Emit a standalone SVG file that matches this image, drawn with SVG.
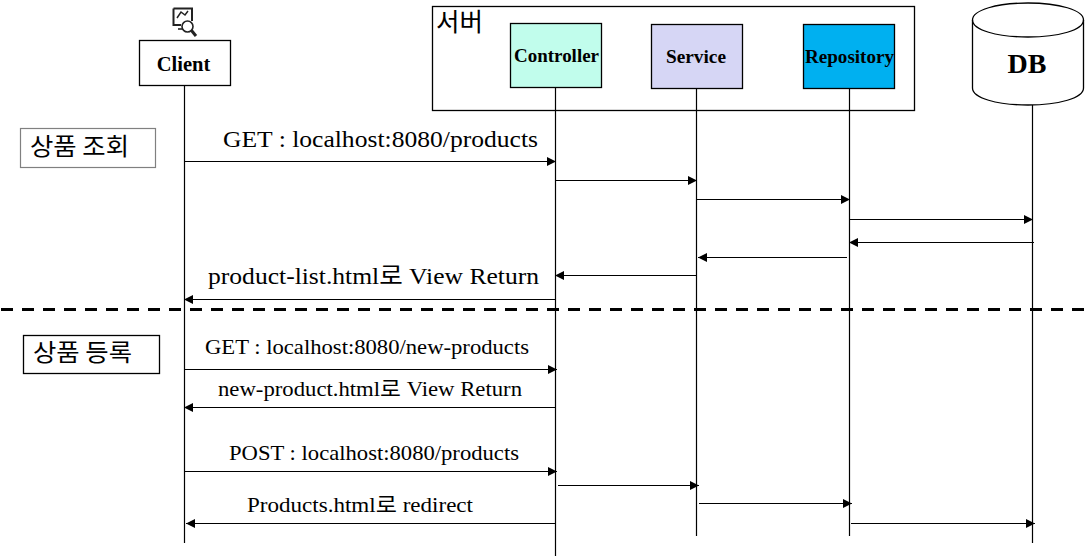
<svg xmlns="http://www.w3.org/2000/svg" width="1085" height="556" viewBox="0 0 1085 556">
<style>
.box{stroke:#000;stroke-width:1.3}
.life{stroke:#000;stroke-width:1.2;fill:none}
.msg{stroke:#000;stroke-width:1.2;fill:none}
.fwd{marker-end:url(#ah)}
.nm{font-family:"Liberation Serif",serif;font-weight:bold;fill:#000;text-anchor:middle}
.lb{font-family:"Liberation Serif","Noto Sans CJK KR",serif;fill:#000}
.kr{font-family:"Noto Sans CJK KR","Noto Sans",sans-serif;fill:#000}
</style>
<defs>
<marker id="ah" markerUnits="userSpaceOnUse" markerWidth="10" markerHeight="10" refX="9" refY="4.500" orient="auto-start-reverse">
<path d="M0,0 L9,4.500 L0,9 Z" fill="#000"/>
</marker>
</defs>
<rect width="1085" height="556" fill="#fff"/>

<g id="server-frame"><rect x="432.500" y="6.500" width="482" height="104" fill="none" class="box"/>
<text x="436" y="31" class="kr" font-size="25" textLength="47" lengthAdjust="spacingAndGlyphs">서버</text></g>

<g id="connectors">
<path class="life" d="M184.500 85V543M555.500 87V556M696.500 88V536M849.500 88V536M1032.500 105V543"/>
<path class="msg fwd" d="M185 161.500H556"/>
<path class="msg fwd" d="M556 180.500H697"/>
<path class="msg fwd" d="M697 199.500H850"/>
<path class="msg fwd" d="M850 219.500H1033"/>
<path class="msg fwd" d="M1034 242.500H849"/>
<path class="msg fwd" d="M847 257.500H698"/>
<path class="msg fwd" d="M696 275.500H555"/>
<path class="msg fwd" d="M555 299.500H184"/>
<path d="M1 309.500H1085" stroke="#000" stroke-width="3" stroke-dasharray="12 9" fill="none"/>
<path class="msg fwd" d="M185 369.500H557"/>
<path class="msg fwd" d="M555 407.500H184"/>
<path class="msg fwd" d="M185 471.500H557"/>
<path class="msg fwd" d="M558 485.500H699"/>
<path class="msg fwd" d="M699 503.500H852"/>
<path class="msg fwd" d="M555 523.500H186"/>
<path class="msg fwd" d="M851 523.500H1035"/>
</g>

<g id="icon" fill="none" stroke="#222">
<path d="M173.500 8.500H192V21M173.500 8.500V25H181" stroke-width="2"/>
<path d="M177 18L181 12L185 15L188 11" stroke-width="1.500"/>
<circle cx="187.500" cy="26.500" r="5.500" stroke-width="1.600"/>
<path d="M191.500 30.500L196 36" stroke-width="3"/>
<path d="M178 29H183" stroke-width="1.600"/>
</g>

<g id="client"><rect x="139.500" y="40.500" width="91" height="45" fill="#fff" class="box"/>
<text x="183.500" y="71" class="nm" font-size="20.500">Client</text></g>
<g id="controller"><rect x="510.500" y="23.500" width="91" height="64" fill="#c1fdec" class="box"/>
<text x="556.500" y="62" class="nm" font-size="18" textLength="85" lengthAdjust="spacingAndGlyphs">Controller</text></g>
<g id="service"><rect x="651.500" y="24.500" width="91" height="64" fill="#d6d6f5" class="box"/>
<text x="696" y="63" class="nm" font-size="19.300">Service</text></g>
<g id="repository"><rect x="803.500" y="24.500" width="91" height="64" fill="#00b0f0" class="box"/>
<text x="849.500" y="63" class="nm" font-size="18" textLength="89" lengthAdjust="spacingAndGlyphs">Repository</text></g>
<g id="db">
<path d="M972.500 20C972.500 10 997 3 1028 3S1083.500 10 1083.500 20V88C1083.500 98 1059 105 1028 105S972.500 98 972.500 88Z" fill="#fff" class="box"/>
<path d="M972.500 20C972.500 30 997 37 1028 37S1083.500 30 1083.500 20" fill="none" class="box"/>
<text x="1027" y="73" class="nm" font-size="28">DB</text></g>

<g id="label-query"><rect x="20.500" y="128.500" width="135" height="39" fill="#fff" stroke="#808080" stroke-width="1.200"/>
<text x="30" y="155" class="kr" font-size="24" textLength="99" lengthAdjust="spacingAndGlyphs">상품 조회</text></g>
<g id="label-register"><rect x="23.500" y="335.500" width="136" height="38" fill="#fff" class="box"/>
<text x="33" y="361" class="kr" font-size="24" textLength="99" lengthAdjust="spacingAndGlyphs">상품 등록</text></g>

<text x="223" y="147" class="lb" font-size="24" textLength="315" lengthAdjust="spacingAndGlyphs">GET : localhost:8080/products</text>
<text x="208" y="284" class="lb" font-size="24" textLength="331" lengthAdjust="spacingAndGlyphs">product-list.html로 View Return</text>
<text x="205" y="354" class="lb" font-size="21" textLength="324" lengthAdjust="spacingAndGlyphs">GET : localhost:8080/new-products</text>
<text x="218" y="396" class="lb" font-size="21" textLength="304" lengthAdjust="spacingAndGlyphs">new-product.html로 View Return</text>
<text x="229" y="460" class="lb" font-size="21" textLength="290" lengthAdjust="spacingAndGlyphs">POST : localhost:8080/products</text>
<text x="247" y="512" class="lb" font-size="21" textLength="226" lengthAdjust="spacingAndGlyphs">Products.html로 redirect</text>
</svg>
